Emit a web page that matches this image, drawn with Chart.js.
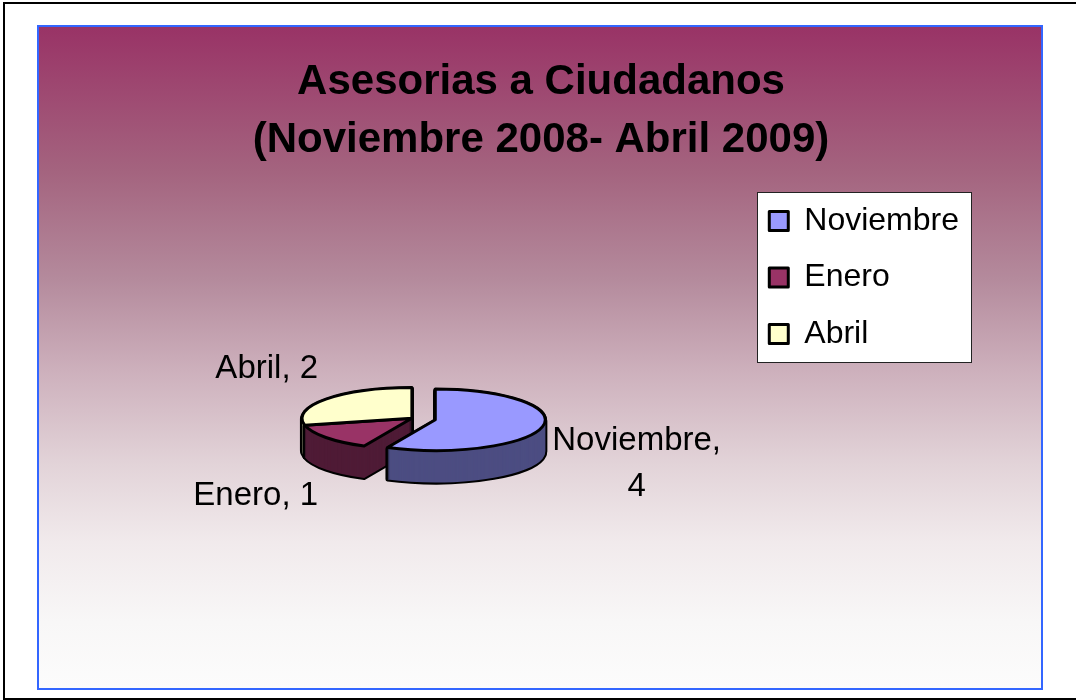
<!DOCTYPE html>
<html>
<head>
<meta charset="utf-8">
<title>Asesorias a Ciudadanos</title>
<script src="https://cdn.jsdelivr.net/npm/chart.js@4/dist/chart.umd.min.js"></script>
<style>
  html, body { margin: 0; padding: 0; background: #fff; overflow: hidden; }
  #frame {
    position: absolute; left: 3px; top: 2px;
    width: 1100px; height: 694px;
    border: 2px solid #000;
  }
  #plot {
    position: absolute; left: 37px; top: 25px;
    width: 1002px; height: 661px;
    border: 2px solid #3366ff;
    background: linear-gradient(to bottom,
      #993366 0%, #a4647f 22%, #b48a9c 38%, #cdb0bc 52%,
      #e2d3d8 66%, #f1eaec 78%, #f8f7f7 90%, #fcfcfc 100%);
  }
  #plot canvas { display: block; }
</style>
</head>
<body>
<div id="frame"></div>
<div id="plot"><canvas id="pieChart" width="1002" height="661"></canvas></div>

<script>
// data
const titleLines = ['Asesorias a Ciudadanos', '(Noviembre 2008- Abril 2009)'];
const months = ['Noviembre', 'Enero', 'Abril'];
const asesorias = [4, 1, 2];

// look
const FONT = "'Liberation Sans', Arial, sans-serif";
const sliceColors = ['#9999FF', '#993366', '#FFFFCC'];
const sideColors = ['#4C4D82', '#4F1B36', '#85856A'];
const explode = [1, 0, 0];      // which slice is pulled out
const legendGapWidth = 34;      // room between pie and legend

// empty layout box, keeps the pie away from the legend
// (display:false so the layout doesn't halve the legend's max width)
const legendGap = {
    id: 'legendGap',
    beforeInit(chart) {
        Chart.layouts.addBox(chart, {
            position: 'right',
            weight: 999,
            fullSize: false,
            options: { display: false },
            left: 0, top: 0, right: 0, bottom: 0, width: 0, height: 0,
            isHorizontal() { return false; },
            update(maxWidth, maxHeight) {
                this.width = legendGapWidth;
                this.height = maxHeight;
            },
            draw() {}
        });
    }
};

// white box with a thin border behind the legend items
const legendFrame = {
    id: 'legendFrame',
    beforeDraw(chart, args, opts) {
        const hb = chart.legend && chart.legend.legendHitBoxes;
        if (!hb || !hb.length) return;
        const ctx = chart.ctx;
        const left = Math.min(...hb.map(b => b.left)) - opts.padX;
        const right = Math.max(...hb.map(b => b.left + b.width)) + opts.padX;
        const top = hb[0].top - opts.padTop;
        const last = hb[hb.length - 1];
        const bottom = last.top + last.height + opts.padBottom;
        ctx.save();
        ctx.fillStyle = '#ffffff';
        ctx.fillRect(Math.round(left), Math.round(top), Math.round(right - left), Math.round(bottom - top));
        ctx.strokeStyle = '#222';
        ctx.lineWidth = 1;
        ctx.strokeRect(Math.round(left) + 0.5, Math.round(top) + 0.5, Math.round(right - left), Math.round(bottom - top));
        ctx.restore();
    }
};

// fake 3D: squash the pie and stack darker copies under it
const pie3d = {
    id: 'pie3d',
    beforeDatasetsDraw(chart, args, opts) {
        const ctx = chart.ctx;
        const arcs = chart.getDatasetMeta(0).data;
        if (!arcs.length) return;
        const cx = arcs[0].x;
        const cy = arcs[0].y;
        const base = ctx.getTransform();
        const plainStroke = ctx.stroke;

        // outlines keep an even width even though the pie is squashed
        ctx.stroke = function () {
            this.save();
            this.setTransform(base);
            plainStroke.call(this);
            this.restore();
        };

        const shift = (arc, i) => {
            const mid = (arc.startAngle + arc.endAngle) / 2;
            const d = (opts.explode[i] || 0) * opts.distance;
            return [Math.cos(mid) * d, Math.sin(mid) * d];
        };
        const drawWith = (arc, over) => {
            const copy = Object.create(arc);
            copy.options = Object.assign({}, arc.options, over);
            arc.draw.call(copy, ctx);
        };
        const stack = (arc, dx, dy, over) => {
            for (let p = opts.depth; p >= 1; p--) {
                ctx.save();
                ctx.translate(dx, dy + p / opts.tilt);
                drawWith(arc, over);
                ctx.restore();
            }
        };

        ctx.save();
        ctx.translate(cx, cy);
        ctx.scale(1, opts.tilt);
        ctx.translate(-cx, -cy);

        // sides, back slices first: outlined copies, then plain fills over them
        for (let i = arcs.length - 1; i >= 0; i--) {
            const arc = arcs[i];
            const [dx, dy] = shift(arc, i);
            stack(arc, dx, dy, { backgroundColor: opts.sideColors[i], borderWidth: opts.sideBorder });
            stack(arc, dx, dy, { backgroundColor: opts.sideColors[i], borderWidth: 0 });
        }

        // tops
        arcs.forEach((arc, i) => {
            const [dx, dy] = shift(arc, i);
            ctx.save();
            ctx.translate(dx, dy);
            arc.draw(ctx);
            ctx.restore();
        });

        ctx.restore();
        delete ctx.stroke;
        return false;
    }
};

// "Mes, valor" labels outside each slice
const sliceLabels = {
    id: 'sliceLabels',
    afterDraw(chart, args, opts) {
        const ctx = chart.ctx;
        const p = chart.options.plugins.pie3d;
        const arcs = chart.getDatasetMeta(0).data;
        const names = chart.data.labels;
        const vals = chart.data.datasets[0].data;
        ctx.save();
        ctx.font = opts.font;
        ctx.fillStyle = opts.color;
        ctx.textBaseline = 'middle';
        ctx.textAlign = 'center';
        arcs.forEach((arc, i) => {
            const mid = (arc.startAngle + arc.endAngle) / 2;
            const cos = Math.cos(mid);
            const sin = Math.sin(mid);
            const d = (p.explode[i] || 0) * p.distance;
            const ex = arc.x + cos * d;
            const ey = arc.y + sin * d * p.tilt;
            const edgeY = ey + sin * arc.outerRadius * p.tilt;
            const x = ex + cos * (arc.outerRadius + 10);
            const y = edgeY + (sin < 0 ? -30 : 26 + p.depth * Math.min(1, sin * 1.6));

            const text = names[i] + ', ' + vals[i];
            const lines = ctx.measureText(text).width > opts.wrapWidth
                ? [names[i] + ',', String(vals[i])]
                : [text];
            const w = Math.max(...lines.map(l => ctx.measureText(l).width));
            const tx = cos < 0 ? x - w / 2 : x + w / 2;
            lines.forEach((l, j) => {
                ctx.fillText(l, tx, y + (j - (lines.length - 1) / 2) * opts.lineHeight);
            });
        });
        ctx.restore();
    }
};

const config = {
    type: 'pie',
    data: {
        labels: months,
        datasets: [{
            data: asesorias,
            backgroundColor: sliceColors,
            borderColor: '#000000',
            borderWidth: 3,
            borderJoinStyle: 'round',
            hoverOffset: 0
        }]
    },
    options: {
        responsive: false,
        animation: false,
        events: [],
        radius: 110,
        layout: { padding: { left: 74, right: 72, top: 0, bottom: 32 } },
        plugins: {
            title: {
                display: true,
                text: titleLines,
                color: '#000000',
                font: { family: FONT, size: 42, weight: 'bold', lineHeight: 1.37 },
                padding: { top: 27, bottom: 11.5 }
            },
            legend: {
                position: 'right',
                align: 'start',
                fullSize: false,
                labels: {
                    color: '#000000',
                    font: { family: FONT, size: 32 },
                    boxWidth: 19,
                    boxHeight: 19,
                    padding: 24.5
                }
            },
            tooltip: { enabled: false },
            legendFrame: { padX: 12, padTop: 13, padBottom: 12 },
            pie3d: {
                tilt: 0.28,
                depth: 32,
                distance: 24,
                sideBorder: 4,
                explode: explode,
                sideColors: sideColors
            },
            sliceLabels: {
                font: '33px ' + FONT,
                color: '#000000',
                wrapWidth: 160,
                lineHeight: 46
            }
        }
    },
    plugins: [legendGap, legendFrame, pie3d, sliceLabels]
};

const pieChart = new Chart(document.getElementById('pieChart').getContext('2d'), config);
</script>
</body>
</html>
